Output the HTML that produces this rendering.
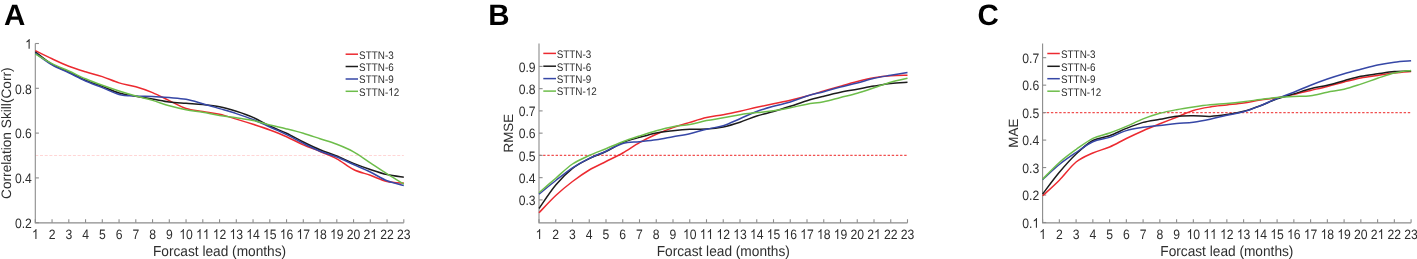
<!DOCTYPE html>
<html><head><meta charset="utf-8"><style>
html,body{margin:0;padding:0;background:#fff;}
body{width:1417px;height:259px;overflow:hidden;}
svg{display:block;will-change:transform;}
text{font-family:"Liberation Sans",sans-serif;fill:#2e2e2e;text-rendering:geometricPrecision;}
.lt{font-size:29.5px;font-weight:bold;fill:#000;}
.tk{font-size:12.2px;}
.al{font-size:13.7px;}
.lg{font-size:9.9px;}
.al2{font-size:13.4px;}
</style></head><body>
<svg width="1417" height="259" viewBox="0 0 1417 259">
<defs><path id="one" fill="#2e2e2e" d="M763 0L583 0L583 1147Q518 1085 415 1024.5Q312 964 223 931L223 1105Q374 1176 486.5 1276.5Q599 1377 647 1472L763 1472Z"/></defs>
<rect width="1417" height="259" fill="#fff"/>
<text x="4.0" y="24.5" class="lt">A</text>
<line x1="35.3" y1="155.50" x2="403.8" y2="155.50" stroke="#ffd6d6" stroke-width="1.1" stroke-dasharray="3,1.7"/>
<path d="M35.30 43.5 V222.85 H403.80" fill="none" stroke="#8c8c8c" stroke-width="1.1"/>
<line x1="35.30" y1="222.85" x2="35.30" y2="219.25" stroke="#8c8c8c" stroke-width="1.1"/>
<use href="#one" transform="translate(31.91 238.90) scale(0.00596 -0.00667)"/>
<line x1="52.05" y1="222.85" x2="52.05" y2="219.25" stroke="#8c8c8c" stroke-width="1.1"/>
<text transform="translate(48.66 238.90) scale(1 1.12)" class="tk">2</text>
<line x1="68.80" y1="222.85" x2="68.80" y2="219.25" stroke="#8c8c8c" stroke-width="1.1"/>
<text transform="translate(65.41 238.90) scale(1 1.12)" class="tk">3</text>
<line x1="85.55" y1="222.85" x2="85.55" y2="219.25" stroke="#8c8c8c" stroke-width="1.1"/>
<text transform="translate(82.16 238.90) scale(1 1.12)" class="tk">4</text>
<line x1="102.30" y1="222.85" x2="102.30" y2="219.25" stroke="#8c8c8c" stroke-width="1.1"/>
<text transform="translate(98.91 238.90) scale(1 1.12)" class="tk">5</text>
<line x1="119.05" y1="222.85" x2="119.05" y2="219.25" stroke="#8c8c8c" stroke-width="1.1"/>
<text transform="translate(115.66 238.90) scale(1 1.12)" class="tk">6</text>
<line x1="135.80" y1="222.85" x2="135.80" y2="219.25" stroke="#8c8c8c" stroke-width="1.1"/>
<text transform="translate(132.41 238.90) scale(1 1.12)" class="tk">7</text>
<line x1="152.55" y1="222.85" x2="152.55" y2="219.25" stroke="#8c8c8c" stroke-width="1.1"/>
<text transform="translate(149.16 238.90) scale(1 1.12)" class="tk">8</text>
<line x1="169.30" y1="222.85" x2="169.30" y2="219.25" stroke="#8c8c8c" stroke-width="1.1"/>
<text transform="translate(165.91 238.90) scale(1 1.12)" class="tk">9</text>
<line x1="186.05" y1="222.85" x2="186.05" y2="219.25" stroke="#8c8c8c" stroke-width="1.1"/>
<use href="#one" transform="translate(179.26 238.90) scale(0.00596 -0.00667)"/><text transform="translate(186.05 238.90) scale(1 1.12)" class="tk">0</text>
<line x1="202.80" y1="222.85" x2="202.80" y2="219.25" stroke="#8c8c8c" stroke-width="1.1"/>
<use href="#one" transform="translate(196.01 238.90) scale(0.00596 -0.00667)"/><use href="#one" transform="translate(202.80 238.90) scale(0.00596 -0.00667)"/>
<line x1="219.55" y1="222.85" x2="219.55" y2="219.25" stroke="#8c8c8c" stroke-width="1.1"/>
<use href="#one" transform="translate(212.76 238.90) scale(0.00596 -0.00667)"/><text transform="translate(219.55 238.90) scale(1 1.12)" class="tk">2</text>
<line x1="236.30" y1="222.85" x2="236.30" y2="219.25" stroke="#8c8c8c" stroke-width="1.1"/>
<use href="#one" transform="translate(229.51 238.90) scale(0.00596 -0.00667)"/><text transform="translate(236.30 238.90) scale(1 1.12)" class="tk">3</text>
<line x1="253.05" y1="222.85" x2="253.05" y2="219.25" stroke="#8c8c8c" stroke-width="1.1"/>
<use href="#one" transform="translate(246.26 238.90) scale(0.00596 -0.00667)"/><text transform="translate(253.05 238.90) scale(1 1.12)" class="tk">4</text>
<line x1="269.80" y1="222.85" x2="269.80" y2="219.25" stroke="#8c8c8c" stroke-width="1.1"/>
<use href="#one" transform="translate(263.01 238.90) scale(0.00596 -0.00667)"/><text transform="translate(269.80 238.90) scale(1 1.12)" class="tk">5</text>
<line x1="286.55" y1="222.85" x2="286.55" y2="219.25" stroke="#8c8c8c" stroke-width="1.1"/>
<use href="#one" transform="translate(279.76 238.90) scale(0.00596 -0.00667)"/><text transform="translate(286.55 238.90) scale(1 1.12)" class="tk">6</text>
<line x1="303.30" y1="222.85" x2="303.30" y2="219.25" stroke="#8c8c8c" stroke-width="1.1"/>
<use href="#one" transform="translate(296.51 238.90) scale(0.00596 -0.00667)"/><text transform="translate(303.30 238.90) scale(1 1.12)" class="tk">7</text>
<line x1="320.05" y1="222.85" x2="320.05" y2="219.25" stroke="#8c8c8c" stroke-width="1.1"/>
<use href="#one" transform="translate(313.26 238.90) scale(0.00596 -0.00667)"/><text transform="translate(320.05 238.90) scale(1 1.12)" class="tk">8</text>
<line x1="336.80" y1="222.85" x2="336.80" y2="219.25" stroke="#8c8c8c" stroke-width="1.1"/>
<use href="#one" transform="translate(330.01 238.90) scale(0.00596 -0.00667)"/><text transform="translate(336.80 238.90) scale(1 1.12)" class="tk">9</text>
<line x1="353.55" y1="222.85" x2="353.55" y2="219.25" stroke="#8c8c8c" stroke-width="1.1"/>
<text transform="translate(346.76 238.90) scale(1 1.12)" class="tk">20</text>
<line x1="370.30" y1="222.85" x2="370.30" y2="219.25" stroke="#8c8c8c" stroke-width="1.1"/>
<text transform="translate(363.51 238.90) scale(1 1.12)" class="tk">2</text><use href="#one" transform="translate(370.30 238.90) scale(0.00596 -0.00667)"/>
<line x1="387.05" y1="222.85" x2="387.05" y2="219.25" stroke="#8c8c8c" stroke-width="1.1"/>
<text transform="translate(380.26 238.90) scale(1 1.12)" class="tk">22</text>
<line x1="403.80" y1="222.85" x2="403.80" y2="219.25" stroke="#8c8c8c" stroke-width="1.1"/>
<text transform="translate(397.01 238.90) scale(1 1.12)" class="tk">23</text>
<line x1="35.30" y1="222.70" x2="38.90" y2="222.70" stroke="#8c8c8c" stroke-width="1.1"/>
<text transform="translate(14.94 228.00) scale(1 1.12)" class="tk">0.2</text>
<line x1="35.30" y1="177.90" x2="38.90" y2="177.90" stroke="#8c8c8c" stroke-width="1.1"/>
<text transform="translate(14.94 183.20) scale(1 1.12)" class="tk">0.4</text>
<line x1="35.30" y1="133.10" x2="38.90" y2="133.10" stroke="#8c8c8c" stroke-width="1.1"/>
<text transform="translate(14.94 138.40) scale(1 1.12)" class="tk">0.6</text>
<line x1="35.30" y1="88.30" x2="38.90" y2="88.30" stroke="#8c8c8c" stroke-width="1.1"/>
<text transform="translate(14.94 93.60) scale(1 1.12)" class="tk">0.8</text>
<line x1="35.30" y1="43.50" x2="38.90" y2="43.50" stroke="#8c8c8c" stroke-width="1.1"/>
<use href="#one" transform="translate(25.11 48.80) scale(0.00596 -0.00667)"/>
<text transform="translate(219.55 255.7) scale(1 1.06)" class="al" text-anchor="middle">Forcast lead (months)</text>
<text transform="translate(10.6,133.18) rotate(-90)" class="al" text-anchor="middle">Correlation Skill(Corr)</text>
<path d="M35.30 50.60 C38.09 51.97 46.47 56.20 52.05 58.80 C57.63 61.40 63.22 64.03 68.80 66.20 C74.38 68.37 79.97 70.07 85.55 71.80 C91.13 73.53 96.72 74.75 102.30 76.60 C107.88 78.45 113.47 81.20 119.05 82.90 C124.63 84.60 130.22 85.18 135.80 86.80 C141.38 88.42 146.97 90.30 152.55 92.60 C158.13 94.90 163.72 97.95 169.30 100.60 C174.88 103.25 180.47 106.68 186.05 108.50 C191.63 110.32 197.22 110.53 202.80 111.50 C208.38 112.47 213.97 113.03 219.55 114.30 C225.13 115.57 230.72 117.43 236.30 119.10 C241.88 120.77 247.47 122.48 253.05 124.30 C258.63 126.12 264.22 127.93 269.80 130.00 C275.38 132.07 280.97 134.22 286.55 136.70 C292.13 139.18 297.72 142.43 303.30 144.90 C308.88 147.37 314.47 149.18 320.05 151.50 C325.63 153.82 331.22 155.80 336.80 158.80 C342.38 161.80 347.97 166.75 353.55 169.50 C359.13 172.25 364.72 173.30 370.30 175.30 C375.88 177.30 381.47 180.20 387.05 181.50 C392.63 182.80 401.01 182.83 403.80 183.10" fill="none" stroke="#ec2a30" stroke-width="1.5" stroke-linejoin="round"/>
<path d="M35.30 51.90 C38.09 53.98 46.47 61.05 52.05 64.40 C57.63 67.75 63.22 69.35 68.80 72.00 C74.38 74.65 79.97 77.90 85.55 80.30 C91.13 82.70 96.72 84.28 102.30 86.40 C107.88 88.52 113.47 91.35 119.05 93.00 C124.63 94.65 130.22 95.30 135.80 96.30 C141.38 97.30 146.97 98.05 152.55 99.00 C158.13 99.95 163.72 101.28 169.30 102.00 C174.88 102.72 180.47 102.88 186.05 103.30 C191.63 103.72 197.22 103.93 202.80 104.50 C208.38 105.07 213.97 105.57 219.55 106.70 C225.13 107.83 230.72 109.52 236.30 111.30 C241.88 113.08 247.47 114.95 253.05 117.40 C258.63 119.85 264.22 123.35 269.80 126.00 C275.38 128.65 280.97 130.63 286.55 133.30 C292.13 135.97 297.72 139.25 303.30 142.00 C308.88 144.75 314.47 147.47 320.05 149.80 C325.63 152.13 331.22 153.73 336.80 156.00 C342.38 158.27 347.97 161.15 353.55 163.40 C359.13 165.65 364.72 167.63 370.30 169.50 C375.88 171.37 381.47 173.30 387.05 174.60 C392.63 175.90 401.01 176.85 403.80 177.30" fill="none" stroke="#1c1c1c" stroke-width="1.5" stroke-linejoin="round"/>
<path d="M35.30 53.20 C38.09 55.15 46.47 61.63 52.05 64.90 C57.63 68.17 63.22 70.12 68.80 72.80 C74.38 75.48 79.97 78.53 85.55 81.00 C91.13 83.47 96.72 85.37 102.30 87.60 C107.88 89.83 113.47 93.00 119.05 94.40 C124.63 95.80 130.22 95.67 135.80 96.00 C141.38 96.33 146.97 96.13 152.55 96.40 C158.13 96.67 163.72 97.12 169.30 97.60 C174.88 98.08 180.47 98.28 186.05 99.30 C191.63 100.32 197.22 102.15 202.80 103.70 C208.38 105.25 213.97 106.95 219.55 108.60 C225.13 110.25 230.72 111.78 236.30 113.60 C241.88 115.42 247.47 117.27 253.05 119.50 C258.63 121.73 264.22 124.48 269.80 127.00 C275.38 129.52 280.97 131.87 286.55 134.60 C292.13 137.33 297.72 140.62 303.30 143.40 C308.88 146.18 314.47 149.03 320.05 151.30 C325.63 153.57 331.22 154.80 336.80 157.00 C342.38 159.20 347.97 162.00 353.55 164.50 C359.13 167.00 364.72 169.28 370.30 172.00 C375.88 174.72 381.47 178.55 387.05 180.80 C392.63 183.05 401.01 184.72 403.80 185.50" fill="none" stroke="#3647a6" stroke-width="1.5" stroke-linejoin="round"/>
<path d="M35.30 53.90 C38.09 55.53 46.47 60.85 52.05 63.70 C57.63 66.55 63.22 68.48 68.80 71.00 C74.38 73.52 79.97 76.42 85.55 78.80 C91.13 81.18 96.72 83.27 102.30 85.30 C107.88 87.33 113.47 89.22 119.05 91.00 C124.63 92.78 130.22 94.43 135.80 96.00 C141.38 97.57 146.97 98.77 152.55 100.40 C158.13 102.03 163.72 104.25 169.30 105.80 C174.88 107.35 180.47 108.62 186.05 109.70 C191.63 110.78 197.22 111.35 202.80 112.30 C208.38 113.25 213.97 114.50 219.55 115.40 C225.13 116.30 230.72 116.85 236.30 117.70 C241.88 118.55 247.47 119.28 253.05 120.50 C258.63 121.72 264.22 123.60 269.80 125.00 C275.38 126.40 280.97 127.52 286.55 128.90 C292.13 130.28 297.72 131.65 303.30 133.30 C308.88 134.95 314.47 136.97 320.05 138.80 C325.63 140.63 331.22 142.13 336.80 144.30 C342.38 146.47 347.97 148.72 353.55 151.80 C359.13 154.88 364.72 159.13 370.30 162.80 C375.88 166.47 381.47 170.27 387.05 173.80 C392.63 177.33 401.01 182.30 403.80 184.00" fill="none" stroke="#6dbd4a" stroke-width="1.5" stroke-linejoin="round"/>
<line x1="345.6" y1="54.2" x2="358.0" y2="54.2" stroke="#ec2a30" stroke-width="1.5"/>
<text transform="translate(359.10 58.55) scale(1 1.11)" class="lg">STTN-3</text>
<line x1="345.6" y1="66.5" x2="358.0" y2="66.5" stroke="#1c1c1c" stroke-width="1.5"/>
<text transform="translate(359.10 70.85) scale(1 1.11)" class="lg">STTN-6</text>
<line x1="345.6" y1="79.0" x2="358.0" y2="79.0" stroke="#3647a6" stroke-width="1.5"/>
<text transform="translate(359.10 83.35) scale(1 1.11)" class="lg">STTN-9</text>
<line x1="345.6" y1="91.3" x2="358.0" y2="91.3" stroke="#6dbd4a" stroke-width="1.5"/>
<text transform="translate(359.10 95.65) scale(1 1.11)" class="lg">STTN-</text><use href="#one" transform="translate(388.24 95.65) scale(0.00483 -0.00537)"/><text transform="translate(393.75 95.65) scale(1 1.11)" class="lg">2</text>
<text x="488.3" y="24.5" class="lt">B</text>
<line x1="539.0" y1="155.40" x2="907.5" y2="155.40" stroke="#f05050" stroke-width="1.1" stroke-dasharray="2.4,1.75"/>
<path d="M539.00 43.5 V222.85 H907.50" fill="none" stroke="#8c8c8c" stroke-width="1.1"/>
<line x1="539.00" y1="222.85" x2="539.00" y2="219.25" stroke="#8c8c8c" stroke-width="1.1"/>
<use href="#one" transform="translate(535.61 238.90) scale(0.00596 -0.00667)"/>
<line x1="555.75" y1="222.85" x2="555.75" y2="219.25" stroke="#8c8c8c" stroke-width="1.1"/>
<text transform="translate(552.36 238.90) scale(1 1.12)" class="tk">2</text>
<line x1="572.50" y1="222.85" x2="572.50" y2="219.25" stroke="#8c8c8c" stroke-width="1.1"/>
<text transform="translate(569.11 238.90) scale(1 1.12)" class="tk">3</text>
<line x1="589.25" y1="222.85" x2="589.25" y2="219.25" stroke="#8c8c8c" stroke-width="1.1"/>
<text transform="translate(585.86 238.90) scale(1 1.12)" class="tk">4</text>
<line x1="606.00" y1="222.85" x2="606.00" y2="219.25" stroke="#8c8c8c" stroke-width="1.1"/>
<text transform="translate(602.61 238.90) scale(1 1.12)" class="tk">5</text>
<line x1="622.75" y1="222.85" x2="622.75" y2="219.25" stroke="#8c8c8c" stroke-width="1.1"/>
<text transform="translate(619.36 238.90) scale(1 1.12)" class="tk">6</text>
<line x1="639.50" y1="222.85" x2="639.50" y2="219.25" stroke="#8c8c8c" stroke-width="1.1"/>
<text transform="translate(636.11 238.90) scale(1 1.12)" class="tk">7</text>
<line x1="656.25" y1="222.85" x2="656.25" y2="219.25" stroke="#8c8c8c" stroke-width="1.1"/>
<text transform="translate(652.86 238.90) scale(1 1.12)" class="tk">8</text>
<line x1="673.00" y1="222.85" x2="673.00" y2="219.25" stroke="#8c8c8c" stroke-width="1.1"/>
<text transform="translate(669.61 238.90) scale(1 1.12)" class="tk">9</text>
<line x1="689.75" y1="222.85" x2="689.75" y2="219.25" stroke="#8c8c8c" stroke-width="1.1"/>
<use href="#one" transform="translate(682.96 238.90) scale(0.00596 -0.00667)"/><text transform="translate(689.75 238.90) scale(1 1.12)" class="tk">0</text>
<line x1="706.50" y1="222.85" x2="706.50" y2="219.25" stroke="#8c8c8c" stroke-width="1.1"/>
<use href="#one" transform="translate(699.71 238.90) scale(0.00596 -0.00667)"/><use href="#one" transform="translate(706.50 238.90) scale(0.00596 -0.00667)"/>
<line x1="723.25" y1="222.85" x2="723.25" y2="219.25" stroke="#8c8c8c" stroke-width="1.1"/>
<use href="#one" transform="translate(716.46 238.90) scale(0.00596 -0.00667)"/><text transform="translate(723.25 238.90) scale(1 1.12)" class="tk">2</text>
<line x1="740.00" y1="222.85" x2="740.00" y2="219.25" stroke="#8c8c8c" stroke-width="1.1"/>
<use href="#one" transform="translate(733.21 238.90) scale(0.00596 -0.00667)"/><text transform="translate(740.00 238.90) scale(1 1.12)" class="tk">3</text>
<line x1="756.75" y1="222.85" x2="756.75" y2="219.25" stroke="#8c8c8c" stroke-width="1.1"/>
<use href="#one" transform="translate(749.96 238.90) scale(0.00596 -0.00667)"/><text transform="translate(756.75 238.90) scale(1 1.12)" class="tk">4</text>
<line x1="773.50" y1="222.85" x2="773.50" y2="219.25" stroke="#8c8c8c" stroke-width="1.1"/>
<use href="#one" transform="translate(766.71 238.90) scale(0.00596 -0.00667)"/><text transform="translate(773.50 238.90) scale(1 1.12)" class="tk">5</text>
<line x1="790.25" y1="222.85" x2="790.25" y2="219.25" stroke="#8c8c8c" stroke-width="1.1"/>
<use href="#one" transform="translate(783.46 238.90) scale(0.00596 -0.00667)"/><text transform="translate(790.25 238.90) scale(1 1.12)" class="tk">6</text>
<line x1="807.00" y1="222.85" x2="807.00" y2="219.25" stroke="#8c8c8c" stroke-width="1.1"/>
<use href="#one" transform="translate(800.21 238.90) scale(0.00596 -0.00667)"/><text transform="translate(807.00 238.90) scale(1 1.12)" class="tk">7</text>
<line x1="823.75" y1="222.85" x2="823.75" y2="219.25" stroke="#8c8c8c" stroke-width="1.1"/>
<use href="#one" transform="translate(816.96 238.90) scale(0.00596 -0.00667)"/><text transform="translate(823.75 238.90) scale(1 1.12)" class="tk">8</text>
<line x1="840.50" y1="222.85" x2="840.50" y2="219.25" stroke="#8c8c8c" stroke-width="1.1"/>
<use href="#one" transform="translate(833.71 238.90) scale(0.00596 -0.00667)"/><text transform="translate(840.50 238.90) scale(1 1.12)" class="tk">9</text>
<line x1="857.25" y1="222.85" x2="857.25" y2="219.25" stroke="#8c8c8c" stroke-width="1.1"/>
<text transform="translate(850.46 238.90) scale(1 1.12)" class="tk">20</text>
<line x1="874.00" y1="222.85" x2="874.00" y2="219.25" stroke="#8c8c8c" stroke-width="1.1"/>
<text transform="translate(867.21 238.90) scale(1 1.12)" class="tk">2</text><use href="#one" transform="translate(874.00 238.90) scale(0.00596 -0.00667)"/>
<line x1="890.75" y1="222.85" x2="890.75" y2="219.25" stroke="#8c8c8c" stroke-width="1.1"/>
<text transform="translate(883.96 238.90) scale(1 1.12)" class="tk">22</text>
<line x1="907.50" y1="222.85" x2="907.50" y2="219.25" stroke="#8c8c8c" stroke-width="1.1"/>
<text transform="translate(900.71 238.90) scale(1 1.12)" class="tk">23</text>
<line x1="539.00" y1="199.90" x2="542.60" y2="199.90" stroke="#8c8c8c" stroke-width="1.1"/>
<text transform="translate(518.64 205.20) scale(1 1.12)" class="tk">0.3</text>
<line x1="539.00" y1="177.65" x2="542.60" y2="177.65" stroke="#8c8c8c" stroke-width="1.1"/>
<text transform="translate(518.64 182.95) scale(1 1.12)" class="tk">0.4</text>
<line x1="539.00" y1="155.40" x2="542.60" y2="155.40" stroke="#8c8c8c" stroke-width="1.1"/>
<text transform="translate(518.64 160.70) scale(1 1.12)" class="tk">0.5</text>
<line x1="539.00" y1="133.15" x2="542.60" y2="133.15" stroke="#8c8c8c" stroke-width="1.1"/>
<text transform="translate(518.64 138.45) scale(1 1.12)" class="tk">0.6</text>
<line x1="539.00" y1="110.90" x2="542.60" y2="110.90" stroke="#8c8c8c" stroke-width="1.1"/>
<text transform="translate(518.64 116.20) scale(1 1.12)" class="tk">0.7</text>
<line x1="539.00" y1="88.65" x2="542.60" y2="88.65" stroke="#8c8c8c" stroke-width="1.1"/>
<text transform="translate(518.64 93.95) scale(1 1.12)" class="tk">0.8</text>
<line x1="539.00" y1="66.40" x2="542.60" y2="66.40" stroke="#8c8c8c" stroke-width="1.1"/>
<text transform="translate(518.64 71.70) scale(1 1.12)" class="tk">0.9</text>
<text transform="translate(723.25 255.7) scale(1 1.06)" class="al" text-anchor="middle">Forcast lead (months)</text>
<text transform="translate(512.7,133.18) rotate(-90)" class="al2" text-anchor="middle">RMSE</text>
<path d="M539.00 212.80 C541.79 209.92 550.17 200.72 555.75 195.50 C561.33 190.28 566.92 185.75 572.50 181.50 C578.08 177.25 583.67 173.33 589.25 170.00 C594.83 166.67 600.42 164.33 606.00 161.50 C611.58 158.67 617.17 156.15 622.75 153.00 C628.33 149.85 633.92 145.72 639.50 142.60 C645.08 139.48 650.67 136.80 656.25 134.30 C661.83 131.80 667.42 129.58 673.00 127.60 C678.58 125.62 684.17 124.07 689.75 122.40 C695.33 120.73 700.92 118.88 706.50 117.60 C712.08 116.32 717.67 115.77 723.25 114.70 C728.83 113.63 734.42 112.43 740.00 111.20 C745.58 109.97 751.17 108.55 756.75 107.30 C762.33 106.05 767.92 104.88 773.50 103.70 C779.08 102.52 784.67 101.48 790.25 100.20 C795.83 98.92 801.42 97.53 807.00 96.00 C812.58 94.47 818.17 92.65 823.75 91.00 C829.33 89.35 834.92 87.68 840.50 86.10 C846.08 84.52 851.67 82.90 857.25 81.50 C862.83 80.10 868.42 78.67 874.00 77.70 C879.58 76.73 885.17 76.10 890.75 75.70 C896.33 75.30 904.71 75.37 907.50 75.30" fill="none" stroke="#ec2a30" stroke-width="1.5" stroke-linejoin="round"/>
<path d="M539.00 208.50 C541.79 204.58 550.17 191.68 555.75 185.00 C561.33 178.32 566.92 172.80 572.50 168.40 C578.08 164.00 583.67 161.42 589.25 158.60 C594.83 155.78 600.42 154.17 606.00 151.50 C611.58 148.83 617.17 144.95 622.75 142.60 C628.33 140.25 633.92 139.02 639.50 137.40 C645.08 135.78 650.67 134.02 656.25 132.90 C661.83 131.78 667.42 131.30 673.00 130.70 C678.58 130.10 684.17 129.57 689.75 129.30 C695.33 129.03 700.92 129.50 706.50 129.10 C712.08 128.70 717.67 128.05 723.25 126.90 C728.83 125.75 734.42 124.02 740.00 122.20 C745.58 120.38 751.17 117.78 756.75 116.00 C762.33 114.22 767.92 113.12 773.50 111.50 C779.08 109.88 784.67 108.10 790.25 106.30 C795.83 104.50 801.42 102.38 807.00 100.70 C812.58 99.02 818.17 97.62 823.75 96.20 C829.33 94.78 834.92 93.37 840.50 92.20 C846.08 91.03 851.67 90.22 857.25 89.20 C862.83 88.18 868.42 87.05 874.00 86.10 C879.58 85.15 885.17 84.13 890.75 83.50 C896.33 82.87 904.71 82.50 907.50 82.30" fill="none" stroke="#1c1c1c" stroke-width="1.5" stroke-linejoin="round"/>
<path d="M539.00 194.20 C541.79 191.92 550.17 184.90 555.75 180.50 C561.33 176.10 566.92 171.50 572.50 167.80 C578.08 164.10 583.67 161.07 589.25 158.30 C594.83 155.53 600.42 153.67 606.00 151.20 C611.58 148.73 617.17 145.08 622.75 143.50 C628.33 141.92 633.92 142.33 639.50 141.70 C645.08 141.07 650.67 140.53 656.25 139.70 C661.83 138.87 667.42 137.70 673.00 136.70 C678.58 135.70 684.17 134.95 689.75 133.70 C695.33 132.45 700.92 130.53 706.50 129.20 C712.08 127.87 717.67 127.45 723.25 125.70 C728.83 123.95 734.42 121.07 740.00 118.70 C745.58 116.33 751.17 113.57 756.75 111.50 C762.33 109.43 767.92 107.88 773.50 106.30 C779.08 104.72 784.67 103.72 790.25 102.00 C795.83 100.28 801.42 97.72 807.00 96.00 C812.58 94.28 818.17 93.20 823.75 91.70 C829.33 90.20 834.92 88.45 840.50 87.00 C846.08 85.55 851.67 84.45 857.25 83.00 C862.83 81.55 868.42 79.58 874.00 78.30 C879.58 77.02 885.17 76.27 890.75 75.30 C896.33 74.33 904.71 72.97 907.50 72.50" fill="none" stroke="#3647a6" stroke-width="1.5" stroke-linejoin="round"/>
<path d="M539.00 192.80 C541.79 190.37 550.17 183.00 555.75 178.20 C561.33 173.40 566.92 167.78 572.50 164.00 C578.08 160.22 583.67 158.05 589.25 155.50 C594.83 152.95 600.42 151.00 606.00 148.70 C611.58 146.40 617.17 143.82 622.75 141.70 C628.33 139.58 633.92 137.82 639.50 136.00 C645.08 134.18 650.67 132.35 656.25 130.80 C661.83 129.25 667.42 127.75 673.00 126.70 C678.58 125.65 684.17 125.52 689.75 124.50 C695.33 123.48 700.92 121.72 706.50 120.60 C712.08 119.48 717.67 118.78 723.25 117.80 C728.83 116.82 734.42 115.57 740.00 114.70 C745.58 113.83 751.17 113.27 756.75 112.60 C762.33 111.93 767.92 111.52 773.50 110.70 C779.08 109.88 784.67 108.78 790.25 107.70 C795.83 106.62 801.42 105.20 807.00 104.20 C812.58 103.20 818.17 102.83 823.75 101.70 C829.33 100.57 834.92 98.82 840.50 97.40 C846.08 95.98 851.67 94.80 857.25 93.20 C862.83 91.60 868.42 89.62 874.00 87.80 C879.58 85.98 885.17 83.88 890.75 82.30 C896.33 80.72 904.71 78.97 907.50 78.30" fill="none" stroke="#6dbd4a" stroke-width="1.5" stroke-linejoin="round"/>
<line x1="543.3" y1="53.4" x2="556.0" y2="53.4" stroke="#ec2a30" stroke-width="1.5"/>
<text transform="translate(556.70 57.75) scale(1 1.11)" class="lg">STTN-3</text>
<line x1="543.3" y1="66.2" x2="556.0" y2="66.2" stroke="#1c1c1c" stroke-width="1.5"/>
<text transform="translate(556.70 70.55) scale(1 1.11)" class="lg">STTN-6</text>
<line x1="543.3" y1="78.6" x2="556.0" y2="78.6" stroke="#3647a6" stroke-width="1.5"/>
<text transform="translate(556.70 82.95) scale(1 1.11)" class="lg">STTN-9</text>
<line x1="543.3" y1="91.1" x2="556.0" y2="91.1" stroke="#6dbd4a" stroke-width="1.5"/>
<text transform="translate(556.70 95.45) scale(1 1.11)" class="lg">STTN-</text><use href="#one" transform="translate(585.84 95.45) scale(0.00483 -0.00537)"/><text transform="translate(591.35 95.45) scale(1 1.11)" class="lg">2</text>
<text x="977.6" y="24.5" class="lt">C</text>
<line x1="1042.6" y1="112.62" x2="1411.1" y2="112.62" stroke="#f05050" stroke-width="1.1" stroke-dasharray="2.4,1.75"/>
<path d="M1042.60 43.5 V222.85 H1411.10" fill="none" stroke="#8c8c8c" stroke-width="1.1"/>
<line x1="1042.60" y1="222.85" x2="1042.60" y2="219.25" stroke="#8c8c8c" stroke-width="1.1"/>
<use href="#one" transform="translate(1039.21 238.90) scale(0.00596 -0.00667)"/>
<line x1="1059.35" y1="222.85" x2="1059.35" y2="219.25" stroke="#8c8c8c" stroke-width="1.1"/>
<text transform="translate(1055.96 238.90) scale(1 1.12)" class="tk">2</text>
<line x1="1076.10" y1="222.85" x2="1076.10" y2="219.25" stroke="#8c8c8c" stroke-width="1.1"/>
<text transform="translate(1072.71 238.90) scale(1 1.12)" class="tk">3</text>
<line x1="1092.85" y1="222.85" x2="1092.85" y2="219.25" stroke="#8c8c8c" stroke-width="1.1"/>
<text transform="translate(1089.46 238.90) scale(1 1.12)" class="tk">4</text>
<line x1="1109.60" y1="222.85" x2="1109.60" y2="219.25" stroke="#8c8c8c" stroke-width="1.1"/>
<text transform="translate(1106.21 238.90) scale(1 1.12)" class="tk">5</text>
<line x1="1126.35" y1="222.85" x2="1126.35" y2="219.25" stroke="#8c8c8c" stroke-width="1.1"/>
<text transform="translate(1122.96 238.90) scale(1 1.12)" class="tk">6</text>
<line x1="1143.10" y1="222.85" x2="1143.10" y2="219.25" stroke="#8c8c8c" stroke-width="1.1"/>
<text transform="translate(1139.71 238.90) scale(1 1.12)" class="tk">7</text>
<line x1="1159.85" y1="222.85" x2="1159.85" y2="219.25" stroke="#8c8c8c" stroke-width="1.1"/>
<text transform="translate(1156.46 238.90) scale(1 1.12)" class="tk">8</text>
<line x1="1176.60" y1="222.85" x2="1176.60" y2="219.25" stroke="#8c8c8c" stroke-width="1.1"/>
<text transform="translate(1173.21 238.90) scale(1 1.12)" class="tk">9</text>
<line x1="1193.35" y1="222.85" x2="1193.35" y2="219.25" stroke="#8c8c8c" stroke-width="1.1"/>
<use href="#one" transform="translate(1186.56 238.90) scale(0.00596 -0.00667)"/><text transform="translate(1193.35 238.90) scale(1 1.12)" class="tk">0</text>
<line x1="1210.10" y1="222.85" x2="1210.10" y2="219.25" stroke="#8c8c8c" stroke-width="1.1"/>
<use href="#one" transform="translate(1203.31 238.90) scale(0.00596 -0.00667)"/><use href="#one" transform="translate(1210.10 238.90) scale(0.00596 -0.00667)"/>
<line x1="1226.85" y1="222.85" x2="1226.85" y2="219.25" stroke="#8c8c8c" stroke-width="1.1"/>
<use href="#one" transform="translate(1220.06 238.90) scale(0.00596 -0.00667)"/><text transform="translate(1226.85 238.90) scale(1 1.12)" class="tk">2</text>
<line x1="1243.60" y1="222.85" x2="1243.60" y2="219.25" stroke="#8c8c8c" stroke-width="1.1"/>
<use href="#one" transform="translate(1236.81 238.90) scale(0.00596 -0.00667)"/><text transform="translate(1243.60 238.90) scale(1 1.12)" class="tk">3</text>
<line x1="1260.35" y1="222.85" x2="1260.35" y2="219.25" stroke="#8c8c8c" stroke-width="1.1"/>
<use href="#one" transform="translate(1253.56 238.90) scale(0.00596 -0.00667)"/><text transform="translate(1260.35 238.90) scale(1 1.12)" class="tk">4</text>
<line x1="1277.10" y1="222.85" x2="1277.10" y2="219.25" stroke="#8c8c8c" stroke-width="1.1"/>
<use href="#one" transform="translate(1270.31 238.90) scale(0.00596 -0.00667)"/><text transform="translate(1277.10 238.90) scale(1 1.12)" class="tk">5</text>
<line x1="1293.85" y1="222.85" x2="1293.85" y2="219.25" stroke="#8c8c8c" stroke-width="1.1"/>
<use href="#one" transform="translate(1287.06 238.90) scale(0.00596 -0.00667)"/><text transform="translate(1293.85 238.90) scale(1 1.12)" class="tk">6</text>
<line x1="1310.60" y1="222.85" x2="1310.60" y2="219.25" stroke="#8c8c8c" stroke-width="1.1"/>
<use href="#one" transform="translate(1303.81 238.90) scale(0.00596 -0.00667)"/><text transform="translate(1310.60 238.90) scale(1 1.12)" class="tk">7</text>
<line x1="1327.35" y1="222.85" x2="1327.35" y2="219.25" stroke="#8c8c8c" stroke-width="1.1"/>
<use href="#one" transform="translate(1320.56 238.90) scale(0.00596 -0.00667)"/><text transform="translate(1327.35 238.90) scale(1 1.12)" class="tk">8</text>
<line x1="1344.10" y1="222.85" x2="1344.10" y2="219.25" stroke="#8c8c8c" stroke-width="1.1"/>
<use href="#one" transform="translate(1337.31 238.90) scale(0.00596 -0.00667)"/><text transform="translate(1344.10 238.90) scale(1 1.12)" class="tk">9</text>
<line x1="1360.85" y1="222.85" x2="1360.85" y2="219.25" stroke="#8c8c8c" stroke-width="1.1"/>
<text transform="translate(1354.06 238.90) scale(1 1.12)" class="tk">20</text>
<line x1="1377.60" y1="222.85" x2="1377.60" y2="219.25" stroke="#8c8c8c" stroke-width="1.1"/>
<text transform="translate(1370.81 238.90) scale(1 1.12)" class="tk">2</text><use href="#one" transform="translate(1377.60 238.90) scale(0.00596 -0.00667)"/>
<line x1="1394.35" y1="222.85" x2="1394.35" y2="219.25" stroke="#8c8c8c" stroke-width="1.1"/>
<text transform="translate(1387.56 238.90) scale(1 1.12)" class="tk">22</text>
<line x1="1411.10" y1="222.85" x2="1411.10" y2="219.25" stroke="#8c8c8c" stroke-width="1.1"/>
<text transform="translate(1404.31 238.90) scale(1 1.12)" class="tk">23</text>
<line x1="1042.60" y1="222.50" x2="1046.20" y2="222.50" stroke="#8c8c8c" stroke-width="1.1"/>
<text transform="translate(1022.24 227.80) scale(1 1.12)" class="tk">0.</text><use href="#one" transform="translate(1032.41 227.80) scale(0.00596 -0.00667)"/>
<line x1="1042.60" y1="195.03" x2="1046.20" y2="195.03" stroke="#8c8c8c" stroke-width="1.1"/>
<text transform="translate(1022.24 200.33) scale(1 1.12)" class="tk">0.2</text>
<line x1="1042.60" y1="167.56" x2="1046.20" y2="167.56" stroke="#8c8c8c" stroke-width="1.1"/>
<text transform="translate(1022.24 172.86) scale(1 1.12)" class="tk">0.3</text>
<line x1="1042.60" y1="140.09" x2="1046.20" y2="140.09" stroke="#8c8c8c" stroke-width="1.1"/>
<text transform="translate(1022.24 145.39) scale(1 1.12)" class="tk">0.4</text>
<line x1="1042.60" y1="112.62" x2="1046.20" y2="112.62" stroke="#8c8c8c" stroke-width="1.1"/>
<text transform="translate(1022.24 117.92) scale(1 1.12)" class="tk">0.5</text>
<line x1="1042.60" y1="85.15" x2="1046.20" y2="85.15" stroke="#8c8c8c" stroke-width="1.1"/>
<text transform="translate(1022.24 90.45) scale(1 1.12)" class="tk">0.6</text>
<line x1="1042.60" y1="57.68" x2="1046.20" y2="57.68" stroke="#8c8c8c" stroke-width="1.1"/>
<text transform="translate(1022.24 62.98) scale(1 1.12)" class="tk">0.7</text>
<text transform="translate(1226.85 255.7) scale(1 1.06)" class="al" text-anchor="middle">Forcast lead (months)</text>
<text transform="translate(1018.0,133.18) rotate(-90)" class="al2" text-anchor="middle">MAE</text>
<path d="M1042.60 195.80 C1045.39 193.20 1053.77 185.83 1059.35 180.20 C1064.93 174.57 1070.52 166.53 1076.10 162.00 C1081.68 157.47 1087.27 155.50 1092.85 153.00 C1098.43 150.50 1104.02 149.42 1109.60 147.00 C1115.18 144.58 1120.77 141.22 1126.35 138.50 C1131.93 135.78 1137.52 133.15 1143.10 130.70 C1148.68 128.25 1154.27 126.05 1159.85 123.80 C1165.43 121.55 1171.02 119.42 1176.60 117.20 C1182.18 114.98 1187.77 112.20 1193.35 110.50 C1198.93 108.80 1204.52 107.92 1210.10 107.00 C1215.68 106.08 1221.27 105.67 1226.85 105.00 C1232.43 104.33 1238.02 103.83 1243.60 103.00 C1249.18 102.17 1254.77 100.87 1260.35 100.00 C1265.93 99.13 1271.52 98.73 1277.10 97.80 C1282.68 96.87 1288.27 95.63 1293.85 94.40 C1299.43 93.17 1305.02 91.73 1310.60 90.40 C1316.18 89.07 1321.77 87.82 1327.35 86.40 C1332.93 84.98 1338.52 83.30 1344.10 81.90 C1349.68 80.50 1355.27 79.07 1360.85 78.00 C1366.43 76.93 1372.02 76.33 1377.60 75.50 C1383.18 74.67 1388.77 73.65 1394.35 73.00 C1399.93 72.35 1408.31 71.83 1411.10 71.60" fill="none" stroke="#ec2a30" stroke-width="1.5" stroke-linejoin="round"/>
<path d="M1042.60 194.00 C1045.39 190.38 1053.77 178.97 1059.35 172.30 C1064.93 165.63 1070.52 159.30 1076.10 154.00 C1081.68 148.70 1087.27 143.55 1092.85 140.50 C1098.43 137.45 1104.02 137.72 1109.60 135.70 C1115.18 133.68 1120.77 130.62 1126.35 128.40 C1131.93 126.18 1137.52 123.92 1143.10 122.40 C1148.68 120.88 1154.27 120.33 1159.85 119.30 C1165.43 118.27 1171.02 116.80 1176.60 116.20 C1182.18 115.60 1187.77 115.67 1193.35 115.70 C1198.93 115.73 1204.52 116.58 1210.10 116.40 C1215.68 116.22 1221.27 115.45 1226.85 114.60 C1232.43 113.75 1238.02 112.78 1243.60 111.30 C1249.18 109.82 1254.77 107.78 1260.35 105.70 C1265.93 103.62 1271.52 100.77 1277.10 98.80 C1282.68 96.83 1288.27 95.58 1293.85 93.90 C1299.43 92.22 1305.02 90.13 1310.60 88.70 C1316.18 87.27 1321.77 86.63 1327.35 85.30 C1332.93 83.97 1338.52 82.20 1344.10 80.70 C1349.68 79.20 1355.27 77.45 1360.85 76.30 C1366.43 75.15 1372.02 74.58 1377.60 73.80 C1383.18 73.02 1388.77 72.08 1394.35 71.60 C1399.93 71.12 1408.31 71.02 1411.10 70.90" fill="none" stroke="#1c1c1c" stroke-width="1.5" stroke-linejoin="round"/>
<path d="M1042.60 179.60 C1045.39 177.08 1053.77 169.02 1059.35 164.50 C1064.93 159.98 1070.52 156.30 1076.10 152.50 C1081.68 148.70 1087.27 144.22 1092.85 141.70 C1098.43 139.18 1104.02 139.25 1109.60 137.40 C1115.18 135.55 1120.77 132.28 1126.35 130.60 C1131.93 128.92 1137.52 128.15 1143.10 127.30 C1148.68 126.45 1154.27 126.12 1159.85 125.50 C1165.43 124.88 1171.02 124.15 1176.60 123.60 C1182.18 123.05 1187.77 122.93 1193.35 122.20 C1198.93 121.47 1204.52 120.37 1210.10 119.20 C1215.68 118.03 1221.27 116.43 1226.85 115.20 C1232.43 113.97 1238.02 113.38 1243.60 111.80 C1249.18 110.22 1254.77 107.92 1260.35 105.70 C1265.93 103.48 1271.52 100.75 1277.10 98.50 C1282.68 96.25 1288.27 94.42 1293.85 92.20 C1299.43 89.98 1305.02 87.40 1310.60 85.20 C1316.18 83.00 1321.77 80.92 1327.35 79.00 C1332.93 77.08 1338.52 75.32 1344.10 73.70 C1349.68 72.08 1355.27 70.73 1360.85 69.30 C1366.43 67.87 1372.02 66.28 1377.60 65.10 C1383.18 63.92 1388.77 62.92 1394.35 62.20 C1399.93 61.48 1408.31 61.03 1411.10 60.80" fill="none" stroke="#3647a6" stroke-width="1.5" stroke-linejoin="round"/>
<path d="M1042.60 179.20 C1045.39 176.42 1053.77 167.45 1059.35 162.50 C1064.93 157.55 1070.52 153.53 1076.10 149.50 C1081.68 145.47 1087.27 141.05 1092.85 138.30 C1098.43 135.55 1104.02 134.98 1109.60 133.00 C1115.18 131.02 1120.77 128.75 1126.35 126.40 C1131.93 124.05 1137.52 121.08 1143.10 118.90 C1148.68 116.72 1154.27 114.83 1159.85 113.30 C1165.43 111.77 1171.02 110.75 1176.60 109.70 C1182.18 108.65 1187.77 107.82 1193.35 107.00 C1198.93 106.18 1204.52 105.38 1210.10 104.80 C1215.68 104.22 1221.27 104.02 1226.85 103.50 C1232.43 102.98 1238.02 102.37 1243.60 101.70 C1249.18 101.03 1254.77 100.22 1260.35 99.50 C1265.93 98.78 1271.52 97.90 1277.10 97.40 C1282.68 96.90 1288.27 96.78 1293.85 96.50 C1299.43 96.22 1305.02 96.42 1310.60 95.70 C1316.18 94.98 1321.77 93.27 1327.35 92.20 C1332.93 91.13 1338.52 90.65 1344.10 89.30 C1349.68 87.95 1355.27 85.93 1360.85 84.10 C1366.43 82.27 1372.02 80.15 1377.60 78.30 C1383.18 76.45 1388.77 74.32 1394.35 73.00 C1399.93 71.68 1408.31 70.83 1411.10 70.40" fill="none" stroke="#6dbd4a" stroke-width="1.5" stroke-linejoin="round"/>
<line x1="1047.3" y1="53.5" x2="1059.8" y2="53.5" stroke="#ec2a30" stroke-width="1.5"/>
<text transform="translate(1061.00 57.85) scale(1 1.11)" class="lg">STTN-3</text>
<line x1="1047.3" y1="66.3" x2="1059.8" y2="66.3" stroke="#1c1c1c" stroke-width="1.5"/>
<text transform="translate(1061.00 70.65) scale(1 1.11)" class="lg">STTN-6</text>
<line x1="1047.3" y1="78.7" x2="1059.8" y2="78.7" stroke="#3647a6" stroke-width="1.5"/>
<text transform="translate(1061.00 83.05) scale(1 1.11)" class="lg">STTN-9</text>
<line x1="1047.3" y1="91.2" x2="1059.8" y2="91.2" stroke="#6dbd4a" stroke-width="1.5"/>
<text transform="translate(1061.00 95.55) scale(1 1.11)" class="lg">STTN-</text><use href="#one" transform="translate(1090.14 95.55) scale(0.00483 -0.00537)"/><text transform="translate(1095.65 95.55) scale(1 1.11)" class="lg">2</text>
</svg>
</body></html>
